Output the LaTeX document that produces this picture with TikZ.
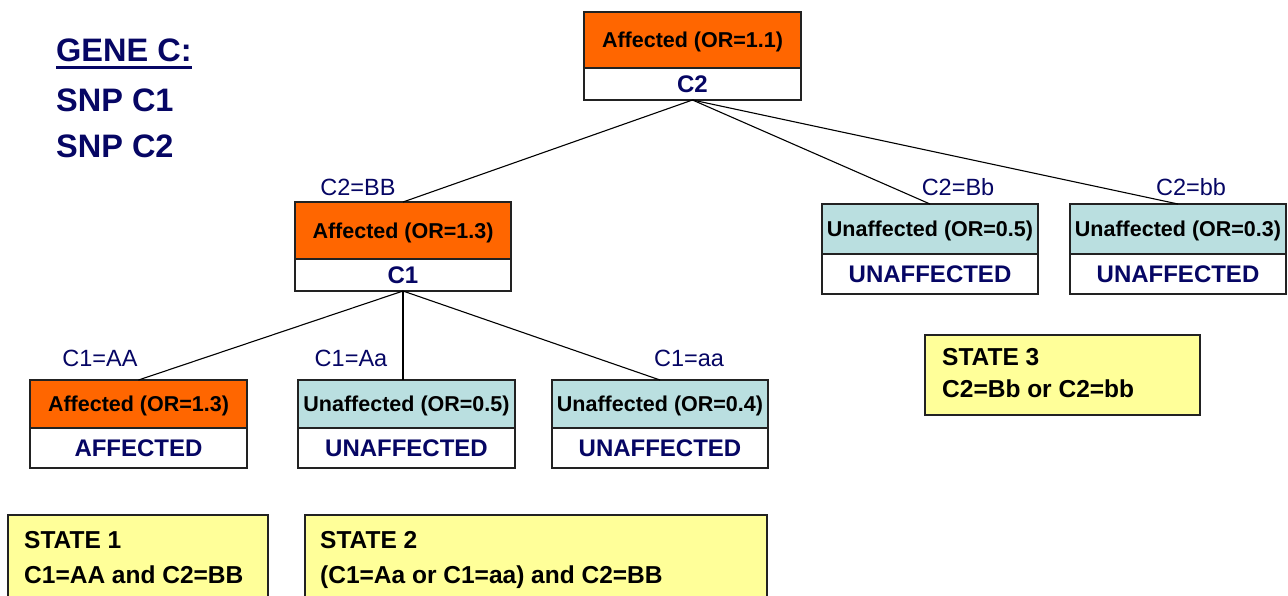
\documentclass[tikz,border=0pt]{standalone}
\usepackage{fontspec}
\setmainfont{Liberation Sans}
\definecolor{orng}{HTML}{FF6600}
\definecolor{cyn}{HTML}{BADFE0}
\definecolor{yel}{HTML}{FFFF99}
\definecolor{navy}{HTML}{060664}
\definecolor{edge}{HTML}{222222}
\begin{document}
\begin{tikzpicture}[x=1pt,y=-1pt,
  box/.style={draw=edge, line width=1.2pt, minimum width=216pt, inner sep=0pt, outer sep=0pt,
    text depth=0pt, font=\bfseries\fontsize{21.5}{24}\selectfont},
  affbox/.style={box, fill=orng},
  unbox/.style={box, fill=cyn},
  resbox/.style={box, fill=white, text=navy, font=\bfseries\fontsize{24}{28}\selectfont},
  lbl/.style={text=navy, font=\fontsize{23.5}{28}\selectfont, inner sep=0pt},
  conn/.style={line width=1.1pt, black},
  statebox/.style={draw=edge, line width=1.2pt, fill=yel, inner sep=0pt, outer sep=0pt, anchor=north west},
  statetxt/.style={font=\bfseries\fontsize{24.5}{28}\selectfont, inner sep=0pt, anchor=base west},
  genetxt/.style={text=navy, font=\bfseries\fontsize{32.5}{36}\selectfont, inner sep=0pt, anchor=base west}]
\clip (0,0) rectangle (1288,595);
\fill[white] (0,0) rectangle (1288,595);

% title
\node[genetxt] (gene) at (56,61) {GENE C:};
\draw[navy, line width=3pt] ([yshift=-6.5pt]gene.base west) -- ([yshift=-6.5pt]gene.base east);
\node[genetxt] (snp1) at (56,111) {SNP C1};
\node[genetxt] (snp2) at (56,157) {SNP C2};

% root
\node[affbox, minimum width=217pt, minimum height=56pt] (rootT) at (692.5,40) {Affected (OR=1.1)};
\node[resbox, minimum width=217pt, minimum height=32pt] (root) at (692.5,84) {C2};

% level 1
\node[affbox, minimum height=57pt] (BBT) at (403,230.5) {Affected (OR=1.3)};
\node[resbox, minimum height=32pt] (BB) at (403,275) {C1};
\node[unbox, minimum height=50pt] (BbT) at (930,229) {Unaffected (OR=0.5)};
\node[resbox, minimum height=40pt] (Bb) at (930,274) {UNAFFECTED};
\node[unbox, minimum height=50pt] (bbT) at (1178,229) {Unaffected (OR=0.3)};
\node[resbox, minimum height=40pt] (bb) at (1178,274) {UNAFFECTED};

% level 2
\node[affbox, minimum width=217pt, minimum height=48pt] (AAT) at (138.5,404) {Affected (OR=1.3)};
\node[resbox, minimum width=217pt, minimum height=40pt] (AA) at (138.5,448) {AFFECTED};
\node[unbox, minimum width=217pt, minimum height=48pt] (AaT) at (406.5,404) {Unaffected (OR=0.5)};
\node[resbox, minimum width=217pt, minimum height=40pt] (Aa) at (406.5,448) {UNAFFECTED};
\node[unbox, minimum height=48pt] (aaT) at (660,404) {Unaffected (OR=0.4)};
\node[resbox, minimum height=40pt] (aa) at (660,448) {UNAFFECTED};

% connectors
\draw[conn] (root.south) -- (BBT.north);
\draw[conn] (root.south) -- (BbT.north);
\draw[conn] (root.south) -- (bbT.north);
\draw[conn] (BB.south) -- (AAT.north);
\draw[conn] (BB.south) -- (BB.south |- AaT.north);
\draw[conn] (BB.south) -- (aaT.north);

% labels
\node[lbl] (lBB) at (358,187) {C2=BB};
\node[lbl] (lBb) at (958,187) {C2=Bb};
\node[lbl] (lbb) at (1191,187) {C2=bb};
\node[lbl] (lAA) at (100,358) {C1=AA};
\node[lbl] (lAa) at (351,358) {C1=Aa};
\node[lbl] (laa) at (689,358) {C1=aa};

% states
\node[statebox, minimum width=275pt, minimum height=80pt] (st3) at (925,335) {};
\node[statetxt] (st3a) at (942,365) {STATE 3};
\node[statetxt] (st3b) at (942,397) {C2=Bb or C2=bb};

\node[statebox, minimum width=260pt, minimum height=100pt] (st1) at (8,515) {};
\node[statetxt] (st1a) at (24,548) {STATE 1};
\node[statetxt] (st1b) at (24,583) {C1=AA and C2=BB};

\node[statebox, minimum width=462pt, minimum height=100pt] (st2) at (305,515) {};
\node[statetxt] (st2a) at (320,548) {STATE 2};
\node[statetxt] (st2b) at (320,583) {(C1=Aa or C1=aa) and C2=BB};
\end{tikzpicture}
\end{document}
